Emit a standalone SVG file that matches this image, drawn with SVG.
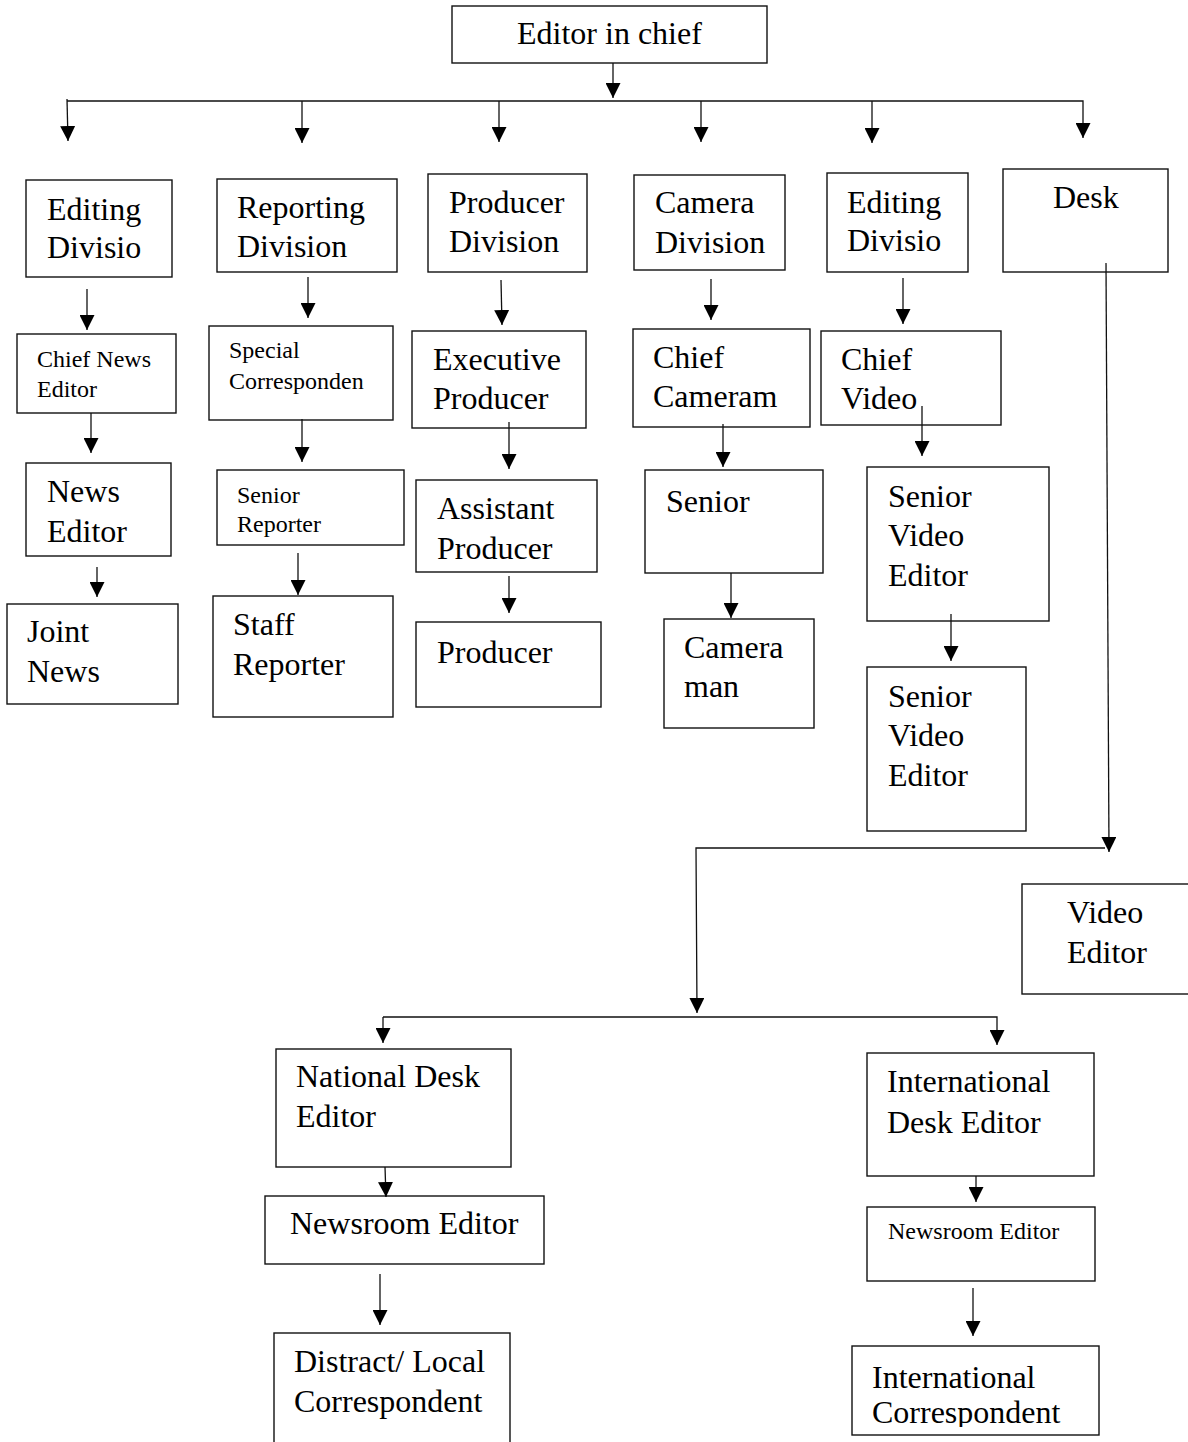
<svg xmlns="http://www.w3.org/2000/svg" width="1188" height="1442" viewBox="0 0 1188 1442">
<style>
.b{fill:#fff;stroke:#111;stroke-width:1.4}
.t{font-family:"Liberation Serif","Times New Roman",serif;font-size:32px;fill:#000}
.s{font-family:"Liberation Serif","Times New Roman",serif;font-size:24px;fill:#000}
.c{fill:none;stroke:#111;stroke-width:1.3}
</style>
<defs>
<marker id="ah" markerUnits="userSpaceOnUse" viewBox="0 0 15 15" markerWidth="15" markerHeight="15" refX="15" refY="7.5" orient="auto"><path d="M0,0 L15,7.5 L0,15 z" fill="#000"/></marker>
<clipPath id="icClip"><rect x="852" y="1346" width="247" height="81"/></clipPath>
</defs>
<rect width="1188" height="1442" fill="#fff"/>

<g id="editor-in-chief"><rect class="b" x="452" y="6" width="315" height="57"/><text class="t" x="517" y="44">Editor in chief</text></g>

<g id="editing-division-1"><rect class="b" x="26" y="180" width="146" height="97"/><text class="t" x="47" y="220">Editing</text><text class="t" x="47" y="258">Divisio</text></g>
<g id="reporting-division"><rect class="b" x="217" y="179" width="180" height="93"/><text class="t" x="237" y="218">Reporting</text><text class="t" x="237" y="257">Division</text></g>
<g id="producer-division"><rect class="b" x="428" y="174" width="159" height="98"/><text class="t" x="449" y="213">Producer</text><text class="t" x="449" y="252">Division</text></g>
<g id="camera-division"><rect class="b" x="634" y="175" width="151" height="95"/><text class="t" x="655" y="213">Camera</text><text class="t" x="655" y="253">Division</text></g>
<g id="editing-division-2"><rect class="b" x="827" y="173" width="141" height="99"/><text class="t" x="847" y="213">Editing</text><text class="t" x="847" y="251">Divisio</text></g>
<g id="desk"><rect class="b" x="1003" y="169" width="165" height="103"/><text class="t" x="1053" y="208">Desk</text></g>

<g id="chief-news-editor"><rect class="b" x="17" y="334" width="159" height="79"/><text class="s" x="37" y="367">Chief News</text><text class="s" x="37" y="397">Editor</text></g>
<g id="news-editor"><rect class="b" x="26" y="463" width="145" height="93"/><text class="t" x="47" y="502">News</text><text class="t" x="47" y="542">Editor</text></g>
<g id="joint-news"><rect class="b" x="7" y="604" width="171" height="100"/><text class="t" x="27" y="642">Joint</text><text class="t" x="27" y="682">News</text></g>

<g id="special-correspondent"><rect class="b" x="209" y="326" width="184" height="94"/><text class="s" x="229" y="358">Special</text><text class="s" x="229" y="389">Corresponden</text></g>
<g id="senior-reporter"><rect class="b" x="217" y="470" width="187" height="75"/><text class="s" x="237" y="503">Senior</text><text class="s" x="237" y="532">Reporter</text></g>
<g id="staff-reporter"><rect class="b" x="213" y="596" width="180" height="121"/><text class="t" x="233" y="635">Staff</text><text class="t" x="233" y="675">Reporter</text></g>

<g id="executive-producer"><rect class="b" x="412" y="331" width="174" height="97"/><text class="t" x="433" y="370">Executive</text><text class="t" x="433" y="409">Producer</text></g>
<g id="assistant-producer"><rect class="b" x="416" y="480" width="181" height="92"/><text class="t" x="437" y="519">Assistant</text><text class="t" x="437" y="559">Producer</text></g>
<g id="producer"><rect class="b" x="416" y="622" width="185" height="85"/><text class="t" x="437" y="663">Producer</text></g>

<g id="chief-cameraman"><rect class="b" x="633" y="329" width="177" height="98"/><text class="t" x="653" y="368">Chief</text><text class="t" x="653" y="407">Cameram</text></g>
<g id="senior-camera"><rect class="b" x="645" y="470" width="178" height="103"/><text class="t" x="666" y="512">Senior</text></g>
<g id="cameraman"><rect class="b" x="664" y="619" width="150" height="109"/><text class="t" x="684" y="658">Camera</text><text class="t" x="684" y="697">man</text></g>

<g id="chief-video"><rect class="b" x="821" y="331" width="180" height="94"/><text class="t" x="841" y="370">Chief</text><text class="t" x="841" y="409">Video</text></g>
<g id="senior-video-editor-1"><rect class="b" x="867" y="467" width="182" height="154"/><text class="t" x="888" y="507">Senior</text><text class="t" x="888" y="546">Video</text><text class="t" x="888" y="586">Editor</text></g>
<g id="senior-video-editor-2"><rect class="b" x="867" y="667" width="159" height="164"/><text class="t" x="888" y="707">Senior</text><text class="t" x="888" y="746">Video</text><text class="t" x="888" y="786">Editor</text></g>

<g id="video-editor"><rect class="b" x="1022" y="884" width="180" height="110"/><text class="t" x="1067" y="923">Video</text><text class="t" x="1067" y="963">Editor</text></g>

<g id="national-desk-editor"><rect class="b" x="276" y="1049" width="235" height="118"/><text class="t" x="296" y="1087">National Desk</text><text class="t" x="296" y="1127">Editor</text></g>
<g id="newsroom-editor-national"><rect class="b" x="265" y="1196" width="279" height="68"/><text class="t" x="290" y="1234">Newsroom Editor</text></g>
<g id="district-local-correspondent"><rect class="b" x="274" y="1333" width="236" height="130"/><text class="t" x="294" y="1372">Distract/ Local</text><text class="t" x="294" y="1412">Correspondent</text></g>

<g id="international-desk-editor"><rect class="b" x="867" y="1053" width="227" height="123"/><text class="t" x="887" y="1092">International</text><text class="t" x="887" y="1133">Desk Editor</text></g>
<g id="newsroom-editor-international"><rect class="b" x="867" y="1207" width="228" height="74"/><text class="s" x="888" y="1239">Newsroom Editor</text></g>
<g id="international-correspondent"><rect class="b" x="852" y="1346" width="247" height="89"/><g clip-path="url(#icClip)"><text class="t" x="872" y="1388">International</text><text class="t" x="872" y="1423">Correspondent</text></g></g>

<g id="connectors">
<line class="c" x1="613" y1="63" x2="613" y2="98" marker-end="url(#ah)"/>
<path class="c" d="M67,101 H1083 V138" marker-end="url(#ah)"/>
<line class="c" x1="67" y1="99" x2="68" y2="141" marker-end="url(#ah)"/>
<line class="c" x1="302" y1="101" x2="302" y2="143" marker-end="url(#ah)"/>
<line class="c" x1="499" y1="101" x2="499" y2="142" marker-end="url(#ah)"/>
<line class="c" x1="701" y1="101" x2="701" y2="142" marker-end="url(#ah)"/>
<line class="c" x1="872" y1="101" x2="872" y2="143" marker-end="url(#ah)"/>

<line class="c" x1="87" y1="289" x2="87" y2="330" marker-end="url(#ah)"/>
<line class="c" x1="91" y1="413" x2="91" y2="453" marker-end="url(#ah)"/>
<line class="c" x1="97" y1="567" x2="97" y2="597" marker-end="url(#ah)"/>

<line class="c" x1="308" y1="277" x2="308" y2="318" marker-end="url(#ah)"/>
<line class="c" x1="302" y1="419" x2="302" y2="462" marker-end="url(#ah)"/>
<line class="c" x1="298" y1="553" x2="298" y2="595" marker-end="url(#ah)"/>

<line class="c" x1="501" y1="280" x2="502" y2="325" marker-end="url(#ah)"/>
<line class="c" x1="509" y1="422" x2="509" y2="469" marker-end="url(#ah)"/>
<line class="c" x1="509" y1="576" x2="509" y2="613" marker-end="url(#ah)"/>

<line class="c" x1="711" y1="279" x2="711" y2="320" marker-end="url(#ah)"/>
<line class="c" x1="723" y1="424" x2="723" y2="467" marker-end="url(#ah)"/>
<line class="c" x1="731" y1="573" x2="731" y2="618" marker-end="url(#ah)"/>

<line class="c" x1="903" y1="278" x2="903" y2="324" marker-end="url(#ah)"/>
<line class="c" x1="922" y1="406" x2="922" y2="456" marker-end="url(#ah)"/>
<line class="c" x1="951" y1="614" x2="951" y2="661" marker-end="url(#ah)"/>

<line class="c" x1="1106" y1="263" x2="1109" y2="852" marker-end="url(#ah)"/>
<path class="c" d="M1105,848 H696 L697,1013" marker-end="url(#ah)"/>
<path class="c" d="M383,1017 H997 V1045" marker-end="url(#ah)"/>
<line class="c" x1="383" y1="1017" x2="383" y2="1043" marker-end="url(#ah)"/>

<line class="c" x1="385" y1="1167" x2="386" y2="1197" marker-end="url(#ah)"/>
<line class="c" x1="380" y1="1274" x2="380" y2="1325" marker-end="url(#ah)"/>
<line class="c" x1="976" y1="1176" x2="976" y2="1202" marker-end="url(#ah)"/>
<line class="c" x1="973" y1="1288" x2="973" y2="1336" marker-end="url(#ah)"/>
</g>
</svg>
